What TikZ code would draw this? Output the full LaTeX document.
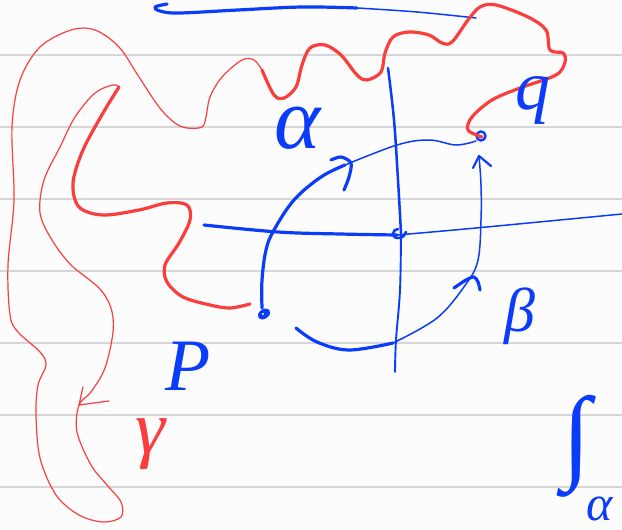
\documentclass[tikz,border=0pt]{standalone}
\usepackage{fontspec}
\usetikzlibrary{shapes.geometric}
\newfontfamily\handfont{Liberation Serif}
\newfontfamily\symfont{DejaVu Sans}
\definecolor{inkblue}{RGB}{10,60,250}
\definecolor{inkred}{RGB}{250,62,62}
\definecolor{ruleline}{RGB}{214,214,214}
\definecolor{paper}{RGB}{252,252,252}

\begin{document}
\begin{tikzpicture}[
    x=1pt, y=-1pt,
    bluethick/.style={draw=inkblue, line width=3.2pt, line cap=round, line join=round},
    bluethin/.style={draw=inkblue, line width=1.5pt, line cap=round, line join=round},
    redthick/.style={draw=inkred, line width=3.2pt, line cap=round, line join=round},
    redthin/.style={draw=inkred, line width=1.2pt, line cap=round, line join=round},
    lbl/.style={inner sep=0pt, font=\handfont\itshape},
]
    % paper and ruled lines
    \fill[paper] (0,0) rectangle (622,530);
    \useasboundingbox (0,0) rectangle (622,530);
    \foreach \yy in {55,127,199,271,343,415,487}
        \draw[ruleline, line width=1.8pt] (0,\yy) -- (622,\yy);

    % top blue stroke
    \draw[bluethick] plot[smooth, tension=0.6] coordinates {(167,4) (155,7) (160,11) (179,13) (238,10) (302,7) (357,8)};
    \draw[bluethin] plot[smooth, tension=0.6] coordinates {(357,8) (417,12) (476,18)};

    % axes
    \draw[bluethick] plot[smooth, tension=0.6] coordinates {(204,225) (278,232) (340,234) (397,235)};
    \draw[bluethin] plot[smooth, tension=0.6] coordinates {(397,235) (476,228) (622,214)};
    \draw[bluethick, line width=2.5pt] plot[smooth, tension=0.6] coordinates {(388,68) (394,120) (398,180) (401,233)};
    \draw[bluethin, line width=1.9pt] plot[smooth, tension=0.6] coordinates {(401,233) (400,290) (396,340) (395,372)};
    \draw[bluethick, line width=2.6pt] (398,229) .. controls (392,229) and (391,238) .. (398,238) .. controls (403,238) and (405,235) .. (406,232);

    % path alpha from P to A
    \draw[bluethick] plot[smooth, tension=0.6] coordinates {(262,308) (262,280) (266,250) (274,230) (294,200) (321,177) (345,165)};
    \draw[bluethin] plot[smooth, tension=0.6] coordinates {(345,165) (397,145) (429,140) (456,145) (476,141)};
    \draw[bluethick] plot[smooth, tension=0.5] coordinates {(331,160) (341,157) (351,163) (349,177) (344,190)};

    % path beta from below to A
    \draw[bluethick] plot[smooth, tension=0.6] coordinates {(296,328) (317,342) (349,350) (393,343)};
    \draw[bluethin] plot[smooth, tension=0.6] coordinates {(393,343) (437,318) (466,284) (478,260) (481,220) (481,185) (479,156)};
    \draw[bluethick] plot[smooth, tension=0.5] coordinates {(454,288) (466,280) (474,277) (478,282) (480,290)};
    \draw[bluethick, line width=2.2pt] (473,168) -- (479,156) -- (491,166);

    % points
    \node[draw=inkblue, fill=inkblue, line width=1.5pt, ellipse, minimum width=12pt, minimum height=8pt, inner sep=0pt, rotate=35] (pdot) at (264,314) {};
    \fill[white] (263,314) circle (1.2pt);
    \node[draw=inkblue, line width=2.4pt, circle, minimum size=9pt, inner sep=0pt] (adot) at (481,136) {};

    % path gamma from P to A, red
    \draw[redthick] plot[smooth, tension=0.55] coordinates {(250,304) (230,308) (210,305) (183,297) (167,282) (165,265) (179,243) (190,220) (187,205) (167,203) (139,210) (103,215) (79,207) (73,183) (83,150) (103,113) (119,87)};
    \draw[redthin] plot[smooth, tension=0.55] coordinates {(119,87) (113,85) (95,93) (75,117) (60,147) (44,180) (40,213) (52,240) (71,265) (99,288) (111,308) (113,332) (105,368) (91,392) (79,405) (77,432) (91,465) (107,485) (121,502) (121,517) (103,522) (79,515) (56,495) (40,458) (36,415) (38,385) (46,365) (40,352) (18,332) (10,315) (8,265) (14,200) (12,127) (20,80) (40,47) (71,30) (95,30) (119,47) (139,77) (159,107) (175,123) (187,128) (202,127) (206,117) (210,97) (222,77) (242,60) (254,60) (262,70)};
    \draw[redthin] (83,387) -- (79,405) -- (109,401);
    \draw[redthick] plot[smooth, tension=0.55] coordinates {(262,70) (274,95) (284,98) (296,87) (302,65) (310,48) (325,45) (341,55) (357,75) (367,80) (381,72) (385,53) (393,37) (409,32) (429,35) (442,43) (452,42) (468,20) (480,7) (496,5) (528,17) (546,30) (550,50) (563,53) (565,62) (556,75) (520,88) (492,100) (472,117) (468,130) (482,137)};

    % labels
    \node[lbl, text=inkblue, font=\handfont\itshape\fontsize{88}{88}\selectfont] (alpha) at (298,128) {α};
    \node[lbl, text=inkblue, font=\handfont\itshape\fontsize{62}{62}\selectfont] (beta) at (520,316) {β};
    \node[lbl, text=inkblue, font=\handfont\itshape\fontsize{74}{74}\selectfont] (plbl) at (188,366) {P};
    \node[lbl, text=inkred, font=\handfont\itshape\fontsize{76}{76}\selectfont] (gamma) at (150,444) {γ};
    \node[lbl, text=inkblue, font=\handfont\itshape\fontsize{70}{70}\selectfont] (qlbl) at (533,100) {q};
    \node[inner sep=0pt, text=inkblue, font=\handfont\fontsize{104}{104}\selectfont] (integral) at (577,446) {∫};
    \node[lbl, text=inkblue, font=\handfont\itshape\fontsize{50}{50}\selectfont] (intsub) at (600,509) {α};
\end{tikzpicture}
\end{document}
